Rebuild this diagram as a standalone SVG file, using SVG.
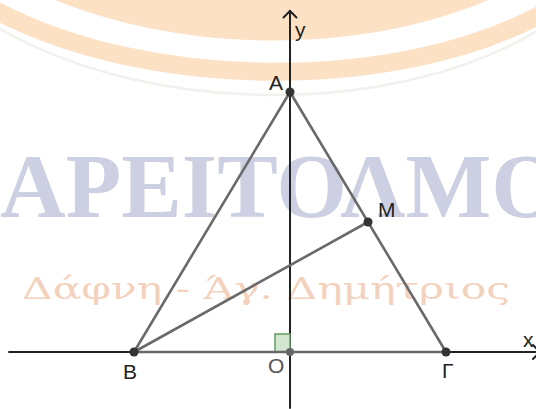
<svg xmlns="http://www.w3.org/2000/svg" width="536" height="409" viewBox="0 0 536 409">
  <style>
    .axis { stroke: #222; stroke-width: 2; fill: none; stroke-linecap: round; }
    .seg { stroke: #6a6a6a; stroke-width: 2.6; fill: none; stroke-linecap: round; }
    .pt { fill: #333; }
    .lbl { font-family: "Liberation Sans", Arial, sans-serif; font-size: 21px; fill: #222; }
    .wm1 { font-family: "Liberation Serif", "DejaVu Serif", serif; font-weight: bold; font-size: 91px; fill: #cdd0e2; }
    .wm2 { font-family: "DejaVu Serif", "Liberation Serif", serif; font-size: 29px; fill: #f3d1bd; }
  </style>
  <rect width="536" height="409" fill="#ffffff"/>
  <g id="watermark">
    <path d="M -5 -30 C 150 64 400 64 545 -30 L 545 -40 L -5 -40 Z" fill="#fde1c5"/>
    <path d="M -5 10 C 150 92 400 92 545 12" fill="none" stroke="#fde1c5" stroke-width="18"/>
    <path d="M -5 26 C 150 118 400 118 545 26" fill="none" stroke="#f0f2ec" stroke-width="2.5"/>
    <text class="wm1" x="0" y="217" textLength="562" lengthAdjust="spacingAndGlyphs">ΑΡΕΙΤΟΛΜΟ</text>
    <text class="wm2" x="22" y="299" textLength="488" lengthAdjust="spacingAndGlyphs">Δάφνη - Άγ. Δημήτριος</text>
  </g>
  <g id="connectors">
    <line class="axis" x1="9" y1="352" x2="540" y2="352"/>
    <polyline class="axis" points="533,345 540,352 533,359"/>
    <line class="axis" x1="290" y1="408" x2="290" y2="11"/>
    <polyline class="axis" points="283.5,17.5 290,11 296.5,17.5"/>
    <rect id="right-angle" x="275" y="334" width="15" height="18" fill="#d3e6d1" stroke="#5f9e5f" stroke-width="1.5"/>
    <line class="seg" x1="290" y1="92" x2="134" y2="352"/>
    <line class="seg" x1="290" y1="92" x2="446" y2="352"/>
    <line class="seg" x1="134" y1="352" x2="446" y2="352"/>
    <line class="seg" x1="134" y1="352" x2="368" y2="222"/>
  </g>
  <g id="axis-x"><text class="lbl" x="523" y="347">x</text></g>
  <g id="axis-y"><text class="lbl" x="295" y="37">y</text></g>
  <g id="A"><circle class="pt" cx="290" cy="92" r="4.5"/><text class="lbl" x="269" y="90">A</text></g>
  <g id="M"><circle class="pt" cx="368" cy="222" r="4.5"/><text class="lbl" x="378" y="217">M</text></g>
  <g id="B"><circle class="pt" cx="134" cy="352" r="4.5"/><text class="lbl" x="123" y="379">B</text></g>
  <g id="G"><circle class="pt" cx="446" cy="352" r="4.5"/><text class="lbl" x="442" y="378">Γ</text></g>
  <g id="O"><circle cx="290" cy="352" r="4" fill="#666"/><text class="lbl" x="268" y="373" style="fill:#555">O</text></g>
</svg>
